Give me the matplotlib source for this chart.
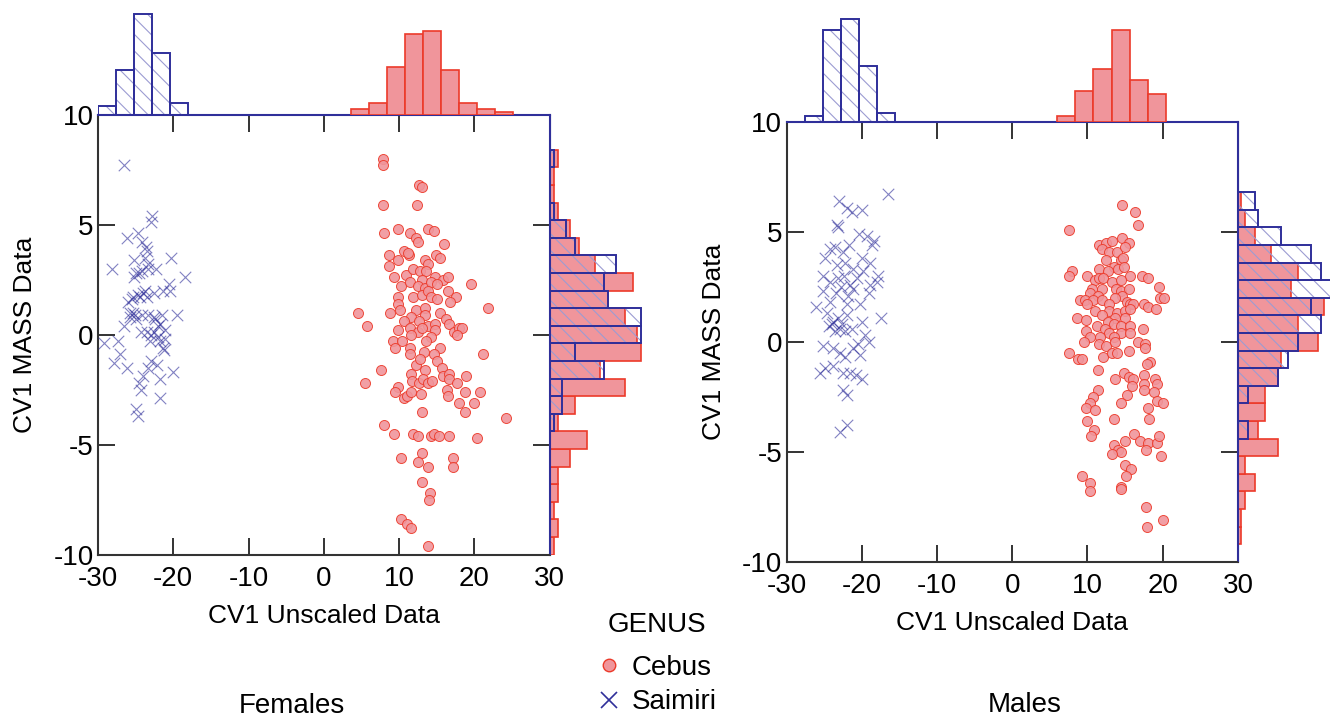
import numpy as np
import matplotlib.pyplot as plt
from matplotlib.lines import Line2D

plt.rcParams['font.family'] = ['Liberation Sans', 'DejaVu Sans']
plt.rcParams['hatch.linewidth'] = 0.8
plt.rcParams['axes.unicode_minus'] = False

# ---- data ----
genus_labels = ['Cebus', 'Saimiri']
panel_titles = ['Females', 'Males']

# scatter points (CV1 unscaled, CV1 mass)
fem_saimiri = np.array([
    (-26.5, 7.7), (-22.8, 5.4), (-23.0, 5.1), (-26.1, 4.4), (-24.7, 4.6), (-24.2, 4.2),
    (-23.6, 4.0), (-23.5, 3.8), (-25.2, 3.4), (-23.7, 3.5), (-20.3, 3.5), (-28.1, 3.0),
    (-22.3, 3.0), (-24.9, 2.8), (-25.2, 2.6), (-24.2, 2.9), (-23.3, 3.2), (-18.5, 2.6),
    (-20.6, 2.3), (-21.3, 2.0), (-20.4, 2.0), (-24.7, 1.8), (-24.0, 1.9), (-23.5, 1.7),
    (-22.5, 1.9), (-26.0, 1.5), (-25.5, 1.6), (-25.4, 1.0), (-25.8, 0.8), (-25.1, 0.9),
    (-24.2, 0.9), (-23.3, 0.9), (-21.5, 0.9), (-19.5, 0.9), (-26.6, 0.4), (-22.4, 0.7),
    (-21.8, 0.5), (-24.3, 0.1), (-23.5, 0.1), (-22.6, 0.1), (-21.1, 0.2), (-22.0, -0.1),
    (-21.1, -0.2), (-23.1, -0.3), (-29.2, -0.4), (-27.3, -0.3), (-21.3, -0.6), (-21.2, -0.7),
    (-27.1, -0.9), (-27.9, -1.3), (-26.2, -1.5), (-23.0, -1.2), (-22.2, -1.4), (-23.3, -1.5),
    (-20.1, -1.7), (-21.7, -2.0), (-24.0, -1.9), (-24.5, -2.2), (-24.3, -2.5), (-21.7, -2.9),
    (-24.9, -3.4), (-24.7, -3.7), (-25.3, 1.7), (-23.8, 2.0), (-24.4, 1.7), (-25.8, 1.0),
    (-24.9, 0.7), (-22.6, 0.8), (-22.0, 0.4), (-22.9, 0.0), (-21.8, -0.3), (-24.6, 2.8),
    (-23.3, 3.0),
])

fem_cebus = np.array([
    (7.9, 8.0), (7.9, 7.7), (12.6, 6.8), (13.0, 6.7), (7.9, 5.9), (12.4, 5.9), (8.0, 4.6),
    (9.8, 4.8), (11.5, 4.6), (12.2, 4.4), (12.5, 4.2), (13.8, 4.8), (14.7, 4.7), (16.0, 4.1),
    (8.7, 3.6), (9.8, 3.4), (10.6, 3.8), (11.3, 3.6), (11.2, 3.7), (13.4, 3.4), (13.9, 3.2),
    (14.9, 3.6), (15.4, 3.5), (8.7, 3.1), (9.3, 2.6), (10.9, 2.7), (11.9, 3.0), (12.8, 2.9),
    (13.6, 2.9), (14.8, 2.6), (15.9, 2.5), (16.5, 2.6), (19.5, 2.3), (10.3, 2.2), (11.5, 2.4),
    (13.0, 2.5), (12.5, 2.2), (13.4, 2.1), (14.2, 2.4), (15.1, 2.3), (9.9, 1.7), (11.9, 1.7),
    (13.0, 1.8), (13.9, 2.0), (14.2, 1.7), (15.0, 1.6), (16.5, 2.0), (17.6, 1.7), (16.8, 1.5),
    (9.9, 1.4), (10.1, 1.1), (8.8, 1.0), (4.5, 1.0), (21.8, 1.2), (12.2, 1.1), (13.5, 1.2),
    (13.5, 0.9), (15.4, 1.0), (11.6, 0.8), (10.7, 0.6), (12.7, 0.6), (13.9, 0.4), (14.8, 0.5),
    (16.3, 0.7), (16.6, 0.5), (5.8, 0.4), (9.8, 0.2), (11.4, 0.3), (12.5, 0.1), (11.6, 0.0),
    (13.0, 0.3), (14.8, 0.2), (14.2, -0.1), (17.3, 0.1), (17.9, 0.3), (18.4, 0.3), (17.7, 0.0),
    (9.2, -0.3), (10.4, -0.3), (9.5, -0.6), (11.4, -0.6), (13.6, -0.3), (15.4, -0.6),
    (21.2, -0.9), (11.4, -0.9), (13.3, -0.8), (14.7, -0.9), (15.0, -1.2), (12.2, -1.4),
    (12.8, -1.1), (13.5, -1.6), (15.7, -1.5), (7.6, -1.6), (5.5, -2.2), (11.6, -1.8),
    (11.7, -2.1), (12.6, -2.2), (13.2, -2.0), (13.8, -2.2), (14.4, -2.1), (15.8, -1.9),
    (16.6, -1.8), (16.7, -2.0), (17.7, -2.2), (18.9, -1.9), (9.9, -2.4), (9.4, -2.6),
    (10.7, -2.9), (11.1, -2.8), (11.6, -2.6), (12.9, -2.7), (16.4, -2.5), (16.5, -2.8),
    (18.7, -2.6), (20.7, -2.6), (17.9, -3.1), (19.9, -3.1), (18.8, -3.5), (13.0, -3.5),
    (24.2, -3.8), (8.0, -4.1), (9.3, -4.5), (11.8, -4.5), (12.5, -4.6), (14.2, -4.6),
    (14.7, -4.5), (15.3, -4.6), (16.6, -4.6), (20.3, -4.7), (10.3, -5.6), (13.0, -5.4),
    (12.5, -5.8), (13.8, -6.0), (17.1, -5.6), (17.2, -6.0), (13.1, -6.7), (14.1, -7.2),
    (14.0, -7.5), (10.3, -8.4), (11.1, -8.6), (11.6, -8.8), (13.9, -9.6),
])

male_saimiri = np.array([
    (-16.5, 6.7), (-23.0, 6.4), (-22.0, 6.1), (-21.3, 5.9), (-20.0, 6.0), (-23.3, 5.3),
    (-23.1, 5.2), (-20.3, 4.9), (-19.3, 4.8), (-18.4, 4.6), (-18.7, 4.4), (-24.2, 4.2),
    (-23.6, 4.3), (-22.5, 4.1), (-21.7, 4.4), (-24.9, 3.8), (-23.3, 3.5), (-22.2, 3.6),
    (-21.1, 3.3), (-20.0, 3.8), (-18.9, 3.6), (-19.8, 3.2), (-17.8, 3.0), (-25.1, 3.0),
    (-24.2, 2.7), (-23.1, 2.9), (-22.7, 2.5), (-21.6, 2.6), (-21.1, 2.4), (-18.9, 2.6),
    (-18.0, 2.7), (-26.1, 1.6), (-25.2, 2.3), (-24.2, 1.8), (-22.0, 1.7), (-21.8, 2.1),
    (-20.2, 1.7), (-19.1, 2.2), (-17.4, 1.1), (-24.4, 0.7), (-23.8, 0.9), (-23.1, 1.1),
    (-22.9, 0.6), (-22.2, 0.5), (-20.0, 0.9), (-19.6, 0.3), (-23.6, 0.5), (-24.0, 0.8),
    (-25.1, -0.2), (-23.8, -0.3), (-22.9, -0.5), (-22.2, -0.7), (-21.1, -0.3), (-20.5, -0.1),
    (-20.2, -0.6), (-19.1, 0.0), (-25.6, -1.4), (-24.9, -1.2), (-23.8, -1.1), (-22.5, -1.4),
    (-21.6, -1.4), (-20.7, -1.5), (-20.0, -1.7), (-22.5, -2.2), (-22.0, -2.4), (-22.0, -3.8),
    (-22.9, -4.1), (-22.6, 0.8), (-21.9, 1.2), (-23.4, 2.2), (-21.3, 0.6), (-22.3, 3.0),
    (-24.6, 1.3), (-20.6, 2.9),
])

male_cebus = np.array([
    (14.6, 6.2), (16.3, 5.9), (16.7, 5.3), (7.5, 5.1), (11.5, 4.4), (12.5, 4.5), (13.2, 4.6),
    (14.6, 4.7), (15.5, 4.5), (11.9, 4.2), (12.9, 4.1), (13.9, 4.1), (15.0, 4.3), (12.5, 3.7),
    (14.4, 3.7), (14.7, 3.8), (13.5, 3.4), (14.1, 3.3), (14.9, 3.4), (7.9, 3.2), (7.6, 3.0),
    (9.9, 3.0), (11.6, 3.3), (12.7, 3.2), (11.0, 2.8), (11.6, 2.9), (12.1, 2.9), (15.7, 3.0),
    (17.2, 3.0), (18.0, 2.9), (13.2, 2.7), (14.4, 2.8), (19.5, 2.5), (10.6, 2.4), (12.0, 2.4),
    (13.8, 2.4), (14.4, 2.3), (15.5, 2.4), (10.4, 2.2), (11.4, 2.1), (14.6, 2.1), (9.0, 1.9),
    (9.7, 1.9), (10.8, 1.9), (12.0, 1.9), (13.6, 2.0), (15.2, 1.8), (19.7, 2.0), (20.2, 2.0),
    (10.0, 1.7), (12.9, 1.7), (15.7, 1.7), (16.0, 1.7), (17.5, 1.7), (18.1, 1.6), (19.1, 1.5),
    (11.0, 1.4), (12.9, 1.4), (13.9, 1.3), (15.0, 1.4), (15.6, 1.5), (11.9, 1.2), (13.7, 1.1),
    (8.6, 1.1), (9.8, 1.0), (12.8, 0.9), (15.0, 1.1), (13.5, 0.8), (14.4, 0.7), (11.3, 0.7),
    (12.4, 0.6), (15.6, 0.7), (17.4, 0.6), (9.8, 0.5), (12.9, 0.4), (14.4, 0.4), (15.7, 0.4),
    (10.3, 0.2), (11.7, 0.2), (13.5, 0.2), (9.5, 0.0), (11.5, -0.1), (12.5, -0.2), (13.7, 0.0),
    (16.7, 0.0), (17.7, -0.1), (15.5, -0.4), (17.7, -0.3), (7.6, -0.5), (8.7, -0.8), (9.3, -0.8),
    (12.1, -0.7), (13.2, -0.5), (13.9, -0.5), (18.3, -0.9), (17.9, -1.0),
    (11.4, -1.3), (13.7, -1.7), (14.9, -1.4), (15.5, -1.6), (16.0, -1.7), (15.9, -2.0),
    (17.5, -1.5), (17.5, -1.9), (17.5, -2.2), (19.0, -1.7), (19.2, -1.9), (18.8, -2.3),
    (11.4, -2.2), (10.8, -2.5), (10.4, -2.8), (9.8, -3.0), (11.0, -3.1), (15.2, -2.4),
    (14.4, -2.8), (19.3, -2.7), (20.0, -2.8), (18.1, -3.0), (18.2, -3.5), (13.5, -3.5),
    (9.9, -3.6), (10.9, -4.0), (10.5, -4.3), (15.0, -4.5), (16.2, -4.2), (17.0, -4.5),
    (18.1, -4.6), (19.2, -4.6), (19.5, -4.3), (13.5, -4.7), (14.1, -4.9), (14.5, -5.0),
    (13.2, -5.1), (17.8, -4.9), (19.8, -5.2), (15.0, -5.6), (15.8, -5.8), (15.1, -6.1),
    (9.3, -6.1), (10.4, -6.4), (10.3, -6.8), (14.4, -6.6), (14.4, -6.7), (17.8, -7.5),
    (20.0, -8.1), (17.9, -8.4),
])

# marginal histogram counts, 25 bins each: x bins from -30 to 30, y bins from -10 (bottom) to 10
fem_top_saimiri = [3, 16, 36, 22, 4, 0, 0, 0, 0, 0, 0, 0, 0, 0, 0, 0, 0, 0, 0, 0, 0, 0, 0, 0, 0]
fem_top_cebus = [0, 0, 0, 0, 0, 0, 0, 0, 0, 0, 0, 0, 0, 0, 2, 4, 17, 29, 30, 16, 4, 2, 1, 0, 0]
fem_side_cebus = [1, 2, 1, 2, 2, 5, 9, 2, 6, 18, 12, 22, 21, 18, 14, 20, 11, 7, 5, 2, 1, 1, 2, 0, 0]
fem_side_saimiri = [0, 0, 0, 0, 0, 0, 0, 1, 3, 3, 13, 6, 22, 22, 14, 13, 16, 6, 4, 1, 0, 0, 1, 0, 0]

male_top_saimiri = [0, 2, 33, 37, 20, 3, 0, 0, 0, 0, 0, 0, 0, 0, 0, 0, 0, 0, 0, 0, 0, 0, 0, 0, 0]
male_top_cebus = [0, 0, 0, 0, 0, 0, 0, 0, 0, 0, 0, 0, 0, 0, 0, 2, 11, 19, 33, 15, 10, 0, 0, 0, 0]
male_side_cebus = [0, 1, 1, 2, 5, 2, 12, 6, 8, 8, 12, 13, 24, 18, 26, 16, 18, 10, 5, 2, 1, 0, 0, 0, 0]
male_side_saimiri = [0, 0, 0, 0, 0, 0, 0, 3, 0, 3, 12, 15, 18, 25, 22, 29, 25, 22, 13, 6, 5, 0, 0, 0, 0]

x_edges = np.linspace(-30, 30, 26)
y_edges = np.linspace(-10, 10, 26)

# ---- style ----
RED_FILL = '#F0959B'
RED_EDGE = '#EC3A2A'
NAVY = '#2F2F9A'
HATCH = '#9C9CD2'
SPINE = '#333333'
FS = 20

W, H = 1330, 719
fig = plt.figure(figsize=(W / 100, H / 100), dpi=100)


def box(l, t, r, b):
    return [l / W, 1 - b / H, (r - l) / W, (b - t) / H]


def draw_panel(left, top, right, bottom, side_w, side_unit, cebus, saimiri,
               top_c, top_s, side_c, side_s):
    ax = fig.add_axes(box(left, top, right, bottom))
    ax.scatter(cebus[:, 0], cebus[:, 1], s=52, facecolor=RED_FILL, edgecolor=RED_EDGE,
               linewidth=0.7, alpha=0.9, zorder=3)
    ax.scatter(saimiri[:, 0], saimiri[:, 1], s=68, marker='x', color=NAVY,
               linewidth=0.8, alpha=0.6, zorder=3)
    ax.set_xlim(-30, 30)
    ax.set_ylim(-10, 10)
    ax.set_xticks(range(-30, 31, 10))
    ax.set_yticks(range(-10, 11, 5))
    ax.tick_params(direction='in', length=12, width=1.4, color=SPINE, top=True,
                   right=True, labelsize=FS)
    ax.tick_params(axis='x', pad=8)
    ax.tick_params(axis='y', pad=3)
    for s in ('left', 'bottom'):
        ax.spines[s].set_color(SPINE)
        ax.spines[s].set_linewidth(1.5)
    for s in ('top', 'right'):
        ax.spines[s].set_color(NAVY)
        ax.spines[s].set_linewidth(1.5)
    ax.set_xlabel('CV1 Unscaled Data', fontsize=19)
    ax.set_ylabel('CV1 MASS Data', fontsize=19)
    ax.xaxis.set_label_coords(0.5, -0.112)
    ax.yaxis.set_label_coords(-0.135, 0.5)

    # top marginal histogram
    unit = 2.78
    axt = fig.add_axes(box(left, top - 40 * unit, right, top))
    tc, ts = np.array(top_c), np.array(top_s)
    mc, ms = tc > 0, ts > 0
    axt.bar(x_edges[:-1][mc], tc[mc], width=2.4, align='edge', color=RED_FILL,
            edgecolor=RED_EDGE, linewidth=1.2)
    axt.bar(x_edges[:-1][ms], ts[ms], width=2.4, align='edge', fill=False,
            hatch='\\\\', edgecolor=HATCH, linewidth=0)
    axt.bar(x_edges[:-1][ms], ts[ms], width=2.4, align='edge', fill=False,
            edgecolor=NAVY, linewidth=1.4)
    axt.set_xlim(-30, 30)
    axt.set_ylim(0, 40)
    axt.axis('off')

    # side marginal histogram
    axs = fig.add_axes(box(right, top, right + side_w, bottom))
    sc, ss = np.array(side_c), np.array(side_s)
    mc, ms = sc > 0, ss > 0
    axs.barh(y_edges[:-1][mc], sc[mc], height=0.8, align='edge', color=RED_FILL,
             edgecolor=RED_EDGE, linewidth=1.2)
    axs.barh(y_edges[:-1][ms], ss[ms], height=0.8, align='edge', fill=False,
             hatch='\\\\', edgecolor=HATCH, linewidth=0)
    axs.barh(y_edges[:-1][ms], ss[ms], height=0.8, align='edge', fill=False,
             edgecolor=NAVY, linewidth=1.4)
    axs.axvline(0, color=NAVY, linewidth=1.5)
    axs.set_ylim(-10, 10)
    axs.set_xlim(0, side_w / side_unit)
    axs.axis('off')
    return ax


draw_panel(98, 114.5, 549.6, 554.5, 100, 4.17, fem_cebus, fem_saimiri,
           fem_top_cebus, fem_top_saimiri, fem_side_cebus, fem_side_saimiri)
draw_panel(786.5, 121.7, 1237.9, 561.7, 92.1, 3.33, male_cebus, male_saimiri,
           male_top_cebus, male_top_saimiri, male_side_cebus, male_side_saimiri)

fig.text(292 / W, 1 - 706 / H, panel_titles[0], fontsize=20, ha='center', va='center')
fig.text(1025 / W, 1 - 705 / H, panel_titles[1], fontsize=20, ha='center', va='center')

# legend
fig.text(657 / W, 1 - 625 / H, 'GENUS', fontsize=20, ha='center', va='center')
handles = [
    Line2D([], [], ls='none', marker='o', ms=9, mfc=RED_FILL, mec=RED_EDGE, mew=1),
    Line2D([], [], ls='none', marker='x', ms=12, mec=NAVY, mew=1.2),
]
fig.legend(handles, genus_labels, loc='upper left', bbox_to_anchor=(598 / W, 1 - 655 / H),
           frameon=False, fontsize=20, handlelength=0.8, handletextpad=0.4,
           labelspacing=0.3, borderpad=0, borderaxespad=0)

fig.savefig('out.png', dpi=100)
